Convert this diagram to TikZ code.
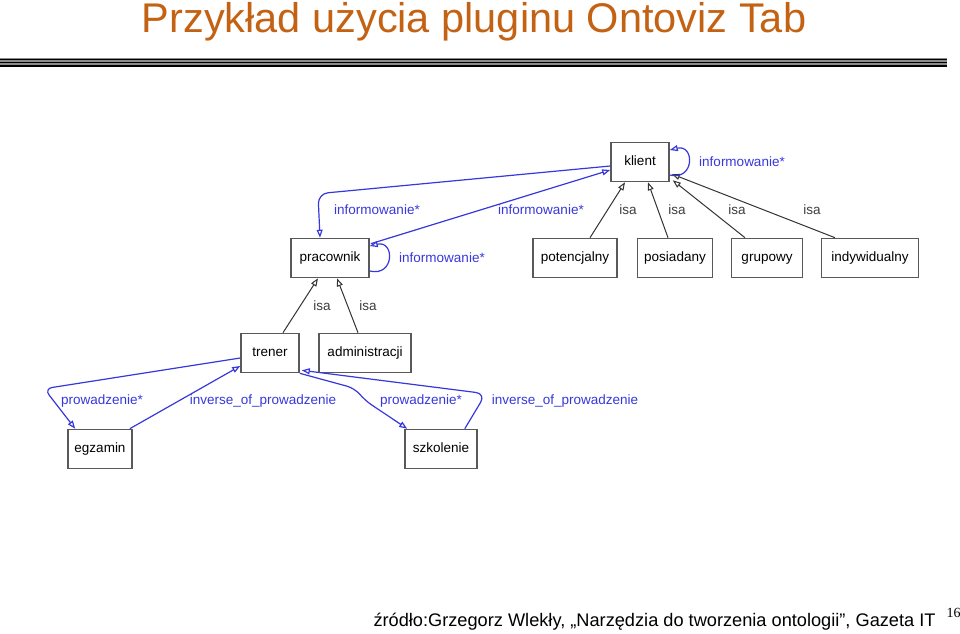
\documentclass[tikz,border=0pt]{standalone}
\usepackage{fontspec}
\setmainfont{Liberation Sans}
\newfontfamily\numfont{Liberation Serif}
\usetikzlibrary{arrows.meta,calc}
\definecolor{tytul}{RGB}{196,98,20}
\definecolor{relblue}{RGB}{55,55,220}
\definecolor{isagray}{RGB}{60,60,60}
\tikzset{
  klasa/.style={draw=black!65,line width=1.6pt,fill=white,minimum height=39pt,inner sep=0pt,text height=9pt,text depth=3pt,font=\fontsize{13.5}{15}\selectfont},
  isa/.style={draw=black!80,line width=1pt},
  rel/.style={draw=relblue,line width=1.2pt},
  isalab/.style={text=isagray,font=\fontsize{13.5}{15}\selectfont},
  rellab/.style={text=relblue,font=\fontsize{13.5}{15}\selectfont}
}

\begin{document}
\begin{tikzpicture}[x=1pt,y=-1pt,>={Triangle[open,length=8pt,width=6pt]}]
\useasboundingbox (0,0) rectangle (960,633);
\node[text=tytul,font=\fontsize{41.5}{48}\selectfont,anchor=base] (tytul) at (474,32) {Przykład użycia pluginu Ontoviz Tab};
\fill[black!45] (0,58) rectangle (947,67);
\foreach \y in {59.2,62.5,65.8}
  \draw[line width=1.4pt] (0,\y) -- (947,\y);

\node[klasa,minimum width=58pt] (klient) at (640,162) {klient};
\node[klasa,minimum width=78pt] (pracownik) at (330,258) {pracownik};
\node[klasa,minimum width=84pt] (potencjalny) at (575,258) {potencjalny};
\node[klasa,minimum width=75pt] (posiadany) at (675,258) {posiadany};
\node[klasa,minimum width=71pt] (grupowy) at (767,258) {grupowy};
\node[klasa,minimum width=97pt] (indywidualny) at (870,258) {indywidualny};
\node[klasa,minimum width=58pt] (trener) at (270,353) {trener};
\node[klasa,minimum width=92pt] (administracji) at (365,353) {administracji};
\node[klasa,minimum width=64pt] (egzamin) at (100,449) {egzamin};
\node[klasa,minimum width=72pt] (szkolenie) at (441,449) {szkolenie};

\draw[isa,->] ($(potencjalny.north)+(15,0)$) -- ($(klient.south)+(-15,0)$);
\draw[isa,->] ($(posiadany.north)+(-7,0)$) -- ($(klient.south)+(8,0)$);
\draw[isa,->] ($(grupowy.north)+(-22,0)$) -- ($(klient.south east)+(3,-2)$);
\draw[isa,->] ($(indywidualny.north)+(-35,0)$) -- ($(klient.east)+(2,12)$);
\draw[isa,->] ($(trener.north)+(13,0)$) -- ($(pracownik.south)+(-12,0)$);
\draw[isa,->] ($(administracji.north)+(-7,0)$) -- ($(pracownik.south)+(7,0)$);
\node[isalab] (isa1) at (628,210) {isa};
\node[isalab] (isa2) at (677,210) {isa};
\node[isalab] (isa3) at (737,210) {isa};
\node[isalab] (isa4) at (812,210) {isa};
\node[isalab] (isa5) at (322,306) {isa};
\node[isalab] (isa6) at (368,306) {isa};

\draw[rel,<-] ($(klient.east)+(0,-12)$) .. controls +(25,-6) and +(25,6) .. ($(klient.east)+(0,13)$);
\draw[rel,->,rounded corners=10pt] ($(klient.west)+(0,4)$) -- ($(pracownik.north)+(-12,-44)$) -- ($(pracownik.north)+(-10,0)$);
\draw[rel,->] ($(pracownik.north east)+(1,6)$) -- ($(klient.west)+(0,8)$);
\draw[rel,<-] ($(pracownik.east)+(0,-12)$) .. controls +(25,-6) and +(25,6) .. ($(pracownik.east)+(0,13)$);
\node[rellab] (inf1) at (742,162) {informowanie*};
\node[rellab] (inf2) at (377,210) {informowanie*};
\node[rellab] (inf3) at (541,210) {informowanie*};
\node[rellab] (inf4) at (442,258) {informowanie*};

\draw[rel,->,rounded corners=8pt] ($(trener.west)+(0,5)$) -- ($(egzamin.north west)+(-23,-40)$) -- ($(egzamin.north west)+(8,0)$);
\draw[rel,->] ($(egzamin.north east)+(-3,0)$) -- ($(trener.west)+(0,13)$);
\draw[rel,->,rounded corners=8pt] (trener.south east) -- ($(trener.south east)+(55,15)$) -- ($(trener.south east)+(65,27)$) -- ($(szkolenie.north west)+(3,0)$);
\draw[rel,->,rounded corners=10pt] ($(szkolenie.north east)+(-13,0)$) -- ($(szkolenie.north east)+(8,-35)$) -- ($(trener.south east)+(2,-3)$);
\node[rellab] (prow1) at (102,401) {prowadzenie*};
\node[rellab] (prow2) at (263,401) {inverse\_of\_prowadzenie};
\node[rellab] (prow3) at (421,401) {prowadzenie*};
\node[rellab] (prow4) at (565,401) {inverse\_of\_prowadzenie};

\node[anchor=base west,font=\fontsize{18.2}{20}\selectfont] (zrodlo) at (370,626) {źródło:Grzegorz Wlekły, „Narzędzia do tworzenia ontologii”, Gazeta IT};
\node[anchor=base west,font=\numfont\fontsize{14}{16}\selectfont] (strona) at (943,617) {16};
\end{tikzpicture}
\end{document}
